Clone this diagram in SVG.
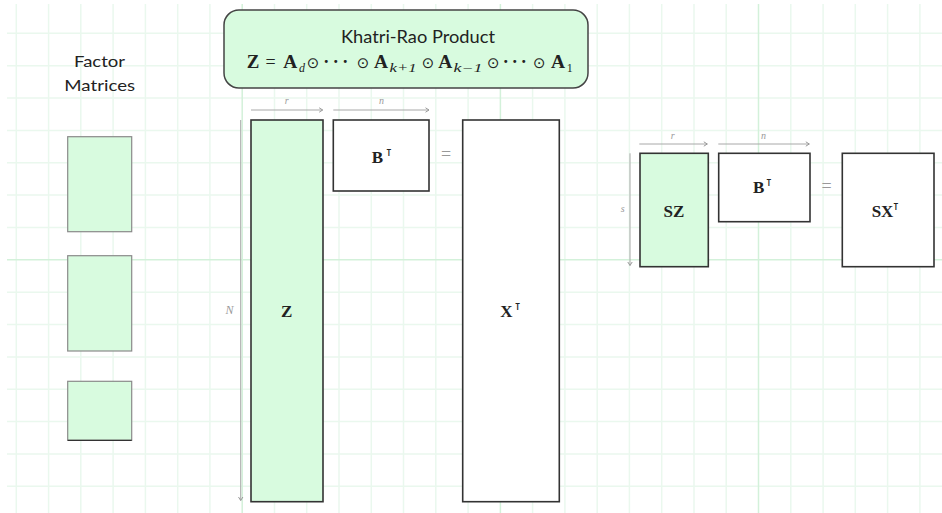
<svg xmlns="http://www.w3.org/2000/svg" width="942" height="513" viewBox="0 0 942 513">
<defs>
<style>
.grid{stroke:#eaf8ee;stroke-width:1.5;fill:none}
.major{stroke:#d3f1da;stroke-width:1.5;fill:none}
.green{fill:#d8fbdf}
.mat{stroke:#333;stroke-width:1.6}
.fac{fill:#d8fbdf;stroke:#8a8a8a;stroke-width:1.2}
.wht{fill:#fff}
.dim{stroke:#a8a8a8;stroke-width:1;fill:none}
.dlab{font-family:"Liberation Serif","DejaVu Serif",serif;font-style:italic;fill:#999;text-anchor:middle}
.bold{font-family:"Liberation Serif","DejaVu Serif",serif;font-weight:bold;fill:#222;text-anchor:middle}
.sym{font-family:"DejaVu Sans",sans-serif;fill:#222;text-anchor:middle}
.dots{font-family:"Liberation Serif",serif;font-weight:bold;fill:#222;font-size:18px;text-anchor:middle}
.sub{font-family:"Liberation Serif","DejaVu Serif",serif;font-style:italic;fill:#222;font-size:12px;text-anchor:middle}
.ui{font-family:Lato,"Liberation Sans",sans-serif;fill:#222;text-anchor:middle}
.eq{font-family:"Liberation Serif",serif;fill:#999;font-size:18px;text-anchor:middle}
</style>
<marker id="ah" markerWidth="6" markerHeight="6" refX="4.5" refY="3" orient="auto" markerUnits="userSpaceOnUse">
<path d="M1,0.8 L4.5,3 L1,5.2" fill="none" stroke="#999" stroke-width="1"/>
</marker>
</defs>
<rect width="942" height="513" fill="#fff"/>
<g id="grid">
<path class="grid" d="M16.3,4V513M48.6,4V513M80.8,4V513M113.1,4V513M145.4,4V513M177.7,4V513M209.9,4V513M274.5,4V513M306.7,4V513M339,4V513M371.3,4V513M403.5,4V513M435.8,4V513M468.1,4V513M532.6,4V513M564.9,4V513M597.2,4V513M629.4,4V513M661.7,4V513M694,4V513M726.2,4V513M790.8,4V513M823.1,4V513M855.3,4V513M887.6,4V513M919.9,4V513"/>
<path class="grid" d="M7,33.3H942M7,65.7H942M7,98H942M7,130.4H942M7,162.7H942M7,195.1H942M7,227.5H942M7,292.2H942M7,324.5H942M7,356.9H942M7,389.3H942M7,421.6H942M7,454H942M7,486.3H942"/>
<path class="major" d="M242.2,4V513M500.4,4V513M758.5,4V513M7,259.8H942"/>
</g>
<g id="khatri-rao">
<rect x="224" y="10" width="364" height="78" rx="15" ry="15" fill="#d8fbdf" stroke="#444" stroke-width="1.5"/>
<text class="ui" x="418" y="43" font-size="17" textLength="154" lengthAdjust="spacingAndGlyphs">Khatri-Rao Product</text>
<g font-size="18">
<text class="bold" x="253" y="68.3" textLength="12.6" lengthAdjust="spacingAndGlyphs">Z</text>
<text class="eq" x="270.7" y="68.3" style="fill:#222">=</text>
<text class="bold" x="290.3" y="68.3" textLength="14" lengthAdjust="spacingAndGlyphs">A</text>
<text class="sub" x="302" y="71.7">d</text>
<text class="sym" x="313" y="68" font-size="15">⊙</text>
<text class="dots" x="335.8" y="67.5" textLength="25" lengthAdjust="spacing">···</text>
<text class="sym" x="363" y="68" font-size="15">⊙</text>
<text class="bold" x="381" y="68.3" textLength="14" lengthAdjust="spacingAndGlyphs">A</text>
<text class="sub" x="403" y="71.7" textLength="27" lengthAdjust="spacingAndGlyphs">k+1</text>
<text class="sym" x="428" y="68" font-size="15">⊙</text>
<text class="bold" x="445.3" y="68.3" textLength="14" lengthAdjust="spacingAndGlyphs">A</text>
<text class="sub" x="468" y="71.7" textLength="29" lengthAdjust="spacingAndGlyphs">k−1</text>
<text class="sym" x="493.3" y="68" font-size="15">⊙</text>
<text class="dots" x="514.7" y="67.5" textLength="24" lengthAdjust="spacing">···</text>
<text class="sym" x="539.2" y="68" font-size="15">⊙</text>
<text class="bold" x="558" y="68.3" textLength="14" lengthAdjust="spacingAndGlyphs">A</text>
<text class="sub" x="569.7" y="71.7" style="font-style:normal">1</text>
</g>
</g>
<g id="factor-matrices">
<text class="ui" x="99.5" y="66.7" font-size="16" textLength="51" lengthAdjust="spacingAndGlyphs">Factor</text>
<text class="ui" x="99.7" y="90.7" font-size="16" textLength="70.7" lengthAdjust="spacingAndGlyphs">Matrices</text>
<rect id="factor-1" class="fac" x="67.7" y="136.7" width="64" height="95"/>
<rect id="factor-2" class="fac" x="67.7" y="255.7" width="64" height="95.3"/>
<rect id="factor-3" class="fac" x="67.7" y="381.3" width="64" height="59"/>
<line x1="67.7" y1="440.3" x2="131.7" y2="440.3" stroke="#333" stroke-width="1.2"/>
</g>
<g id="node-Z">
<rect class="green mat" x="251" y="120" width="72" height="381.7"/>
<text class="bold" x="286.7" y="316.7" font-size="17">Z</text>
</g>
<g id="node-BT-left">
<rect class="wht mat" x="333.3" y="120" width="95.7" height="71"/>
<text class="bold" x="377.5" y="162.7" font-size="17">B</text>
<text class="sym" x="389" y="155.5" font-size="10" style="font-weight:bold">⊺</text>
</g>
<g id="eq-left"><text class="eq" x="446" y="159.5">=</text></g>
<g id="node-XT">
<rect class="wht mat" x="462.7" y="120" width="96.6" height="381.7" stroke-width="1.8"/>
<text class="bold" x="506.3" y="317.3" font-size="17">X</text>
<text class="sym" x="517.8" y="310" font-size="10" style="font-weight:bold">⊺</text>
</g>
<g id="node-SZ">
<rect class="green mat" x="640" y="153.3" width="68.3" height="113.4"/>
<text class="bold" x="674" y="216.7" font-size="17">SZ</text>
</g>
<g id="node-BT-right">
<rect class="wht mat" x="718.7" y="153.3" width="91.3" height="68.4"/>
<text class="bold" x="758.7" y="193.3" font-size="17">B</text>
<text class="sym" x="769" y="186" font-size="10" style="font-weight:bold">⊺</text>
</g>
<g id="eq-right"><text class="eq" x="826.7" y="191.5">=</text></g>
<g id="node-SXT">
<rect class="wht mat" x="842.3" y="153.3" width="91.7" height="113.4"/>
<text class="bold" x="882.5" y="216.7" font-size="17">SX</text>
<text class="sym" x="896" y="209.5" font-size="10" style="font-weight:bold">⊺</text>
</g>
<g id="connectors">
<line class="dim" x1="251" y1="110" x2="322.7" y2="110" marker-end="url(#ah)"/>
<line class="dim" x1="333.3" y1="110" x2="429" y2="110" marker-end="url(#ah)"/>
<line class="dim" x1="240.7" y1="120" x2="240.7" y2="500.5" marker-end="url(#ah)"/>
<line class="dim" x1="639.3" y1="144" x2="707.3" y2="144" marker-end="url(#ah)"/>
<line class="dim" x1="718.3" y1="144" x2="809.3" y2="144" marker-end="url(#ah)"/>
<line class="dim" x1="630" y1="153.3" x2="630" y2="265.5" marker-end="url(#ah)"/>
<text class="dlab" x="286.7" y="104.3" font-size="10">r</text>
<text class="dlab" x="381.5" y="104.3" font-size="10">n</text>
<text class="dlab" x="229.5" y="314" font-size="12">N</text>
<text class="dlab" x="672.7" y="138.5" font-size="10">r</text>
<text class="dlab" x="763.5" y="138.5" font-size="10">n</text>
<text class="dlab" x="622.7" y="211.5" font-size="10">s</text>
</g>
</svg>
